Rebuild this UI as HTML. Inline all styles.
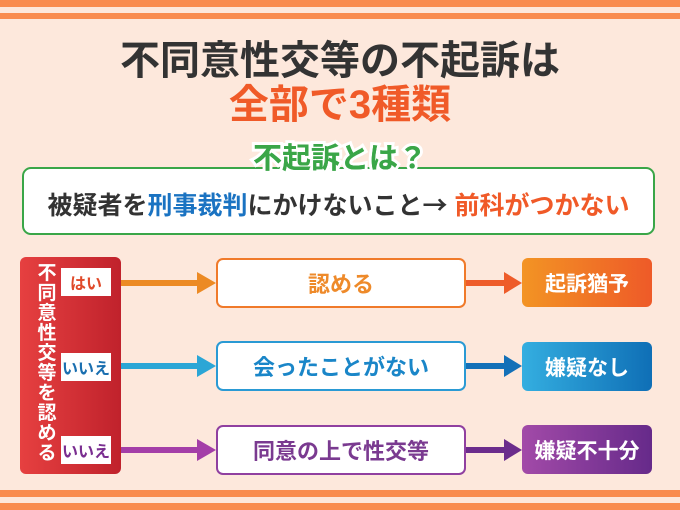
<!DOCTYPE html>
<html><head><meta charset="utf-8"><style>
body{margin:0;width:680px;height:510px;background:#fde8dc;position:relative;overflow:hidden;font-family:"Liberation Sans","Noto Sans CJK JP",sans-serif;font-weight:bold}
.a{position:absolute}
.st{left:0;width:680px;background:#f98c4f}
.c{display:flex;align-items:center;justify-content:center}
.mid{left:216px;width:246px;height:46px;background:#fff;border:2px solid;border-radius:7px;font-size:22px}
.res{left:522px;width:130px;height:49px;border-radius:6px;color:#fff;font-size:21px}
.lab{left:61px;width:50px;height:28px;background:#fff;font-size:16px}
</style></head><body>
<div class="a st" style="top:0;height:7px"></div>
<div class="a st" style="top:13px;height:6px"></div>
<div class="a st" style="top:490px;height:7px"></div>
<div class="a st" style="top:503px;height:7px"></div>
<div class="a" style="left:0;width:680px;top:37px;text-align:center;font-size:40px;color:#333;line-height:48px">不同意性交等の不起訴は</div>
<div class="a" style="left:0;width:680px;top:81px;text-align:center;font-size:40px;color:#f05a28;line-height:48px">全部で3種類</div>
<div class="a c" style="left:22px;top:167px;width:633px;height:68px;border:2px solid #3aa648;border-radius:9px;background:#fff;font-size:25px;color:#333;padding-top:6px;box-sizing:border-box;white-space:nowrap">被疑者を<span style="color:#1a73c2">刑事裁判</span>にかけないこと<span style="font-family:'Noto Sans CJK JP',sans-serif">→</span>&nbsp;<span style="color:#f05a28">前科がつかない</span></div>
<div class="a" style="left:0;width:680px;top:141px;text-align:center;font-size:29px;color:#3aa648;line-height:36px;-webkit-text-stroke:6px #fff;paint-order:stroke fill">不起訴とは？</div>
<div class="a" style="left:0;width:680px;top:141px;text-align:center;font-size:29px;color:#3aa648;line-height:36px">不起訴とは？</div>
<div class="a" style="left:20px;top:257px;width:101px;height:217px;border-radius:6px;background:linear-gradient(90deg,#e64040,#c0222c)"></div>
<div class="a" style="left:36px;top:264px;width:22px;font-size:19px;line-height:20px;color:#fff;text-align:center">不同意性交等を認める</div>
<div class="a c lab" style="top:268px;color:#e04a2a">はい</div>
<div class="a c lab" style="top:353px;color:#1a6fb0">いいえ</div>
<div class="a c lab" style="top:436px;color:#7a2e90">いいえ</div>
<svg class="a" style="left:0;top:0" width="680" height="510">
<path d="M197 272L216 283L197 294Z" fill="#ec8a24"/>
<path d="M197 355L216 366L197 377Z" fill="#2ba6d6"/>
<path d="M197 439L216 450L197 461Z" fill="#a43ea8"/>
<path d="M504 272L522 283L504 294Z" fill="#ee5c2a"/>
<path d="M504 355L522 366L504 377Z" fill="#1370b8"/>
<path d="M504 439L522 450L504 461Z" fill="#6b2c8c"/>
<rect x="121" y="280" width="80" height="6" fill="#ec8a24"/>
<rect x="121" y="363" width="80" height="6" fill="#2ba6d6"/>
<rect x="121" y="447" width="80" height="6" fill="#a43ea8"/>
<rect x="466" y="280" width="42" height="6" fill="#ee5c2a"/>
<rect x="466" y="363" width="42" height="6" fill="#1370b8"/>
<rect x="466" y="447" width="42" height="6" fill="#6b2c8c"/>
</svg>
<div class="a c mid" style="top:258px;border-color:#f07a2a;color:#ee8a2a">認める</div>
<div class="a c mid" style="top:341px;border-color:#2a9ad4;color:#1a86c8">会ったことがない</div>
<div class="a c mid" style="top:425px;border-color:#9040a0;color:#7a3a90">同意の上で性交等</div>
<div class="a c res" style="top:258px;background:linear-gradient(90deg,#f39424,#ee5a28)">起訴猶予</div>
<div class="a c res" style="top:342px;background:linear-gradient(90deg,#34aee0,#0f6fb6)">嫌疑なし</div>
<div class="a c res" style="top:425px;background:linear-gradient(90deg,#a24aa8,#662a8a)">嫌疑不十分</div>
</body></html>
